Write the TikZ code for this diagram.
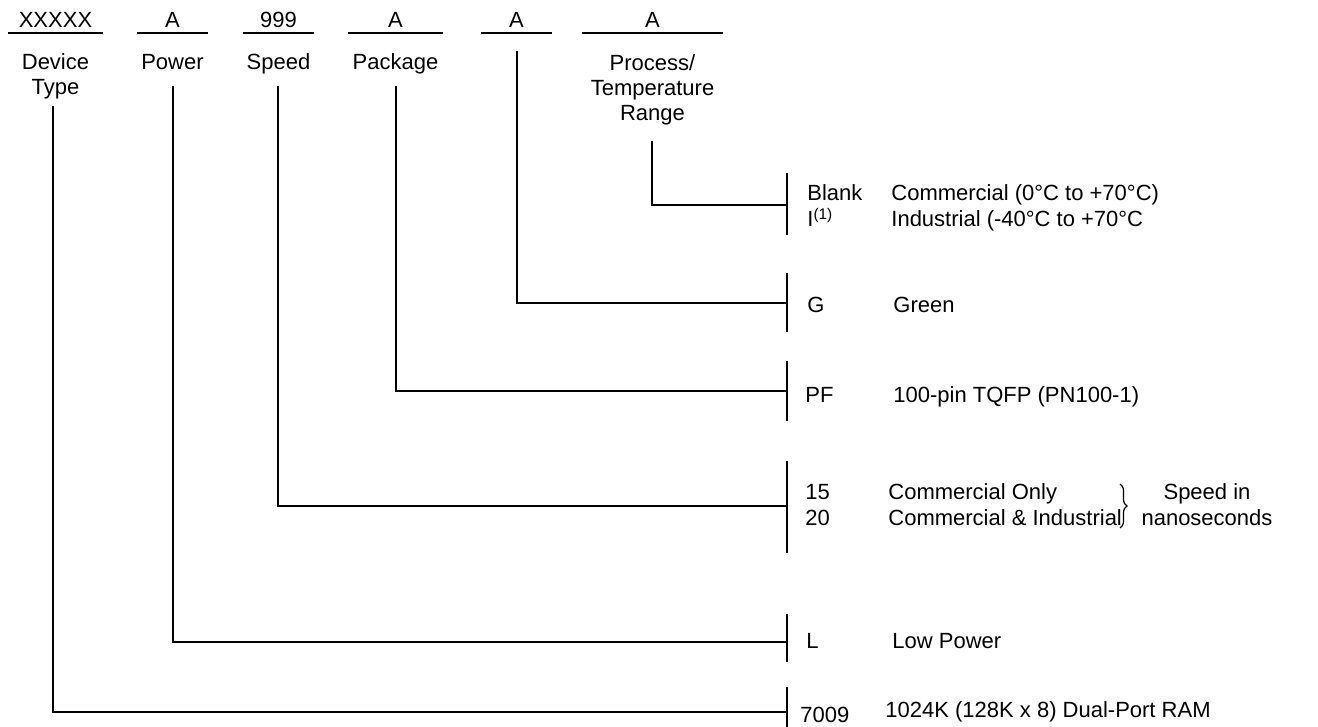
\documentclass[tikz,border=0pt]{standalone}
\usepackage{fontspec}
\setmainfont{Liberation Sans}
\usetikzlibrary{decorations.pathreplacing}
\begin{document}
\begin{tikzpicture}[x=0.5pt,y=-0.5pt,
  txt/.style={inner sep=0pt, font=\fontsize{11}{12.65}\selectfont, anchor=base},
  ctxt/.style={txt, align=center},
  ltxt/.style={txt, anchor=base west},
  ln/.style={line width=0.6pt, black}]
\useasboundingbox (0,0) rectangle (1318,727);

% header fields
\node[txt] (hDev) at (55.5,28) {XXXXX};
\node[txt] (hPow) at (172.5,28) {A};
\node[txt] (hSpd) at (278.5,28) {999};
\node[txt] (hPkg) at (395.5,28) {A};
\node[txt] (hGrn) at (516.5,28) {A};
\node[txt] (hPrc) at (652.5,28) {A};
\draw[ln] (8,33) -- (103,33);
\draw[ln] (137,33) -- (208,33);
\draw[ln] (243,33) -- (314,33);
\draw[ln] (348,33) -- (443,33);
\draw[ln] (481,33) -- (552,33);
\draw[ln] (582,33) -- (723,33);

% field names (base anchor = baseline of the last line)
\node[ctxt] (lDev) at (55.5,95) {Device\\Type};
\node[ctxt] (lPow) at (172.5,70) {Power};
\node[ctxt] (lSpd) at (278.5,70) {Speed};
\node[ctxt] (lPkg) at (395.5,70) {Package};
\node[ctxt] (lPrc) at (652.5,121) {Process/\\Temperature\\Range};

% start points of the leader lines
\coordinate (sDev) at (53,106);
\coordinate (sPow) at (173,86);
\coordinate (sSpd) at (278,86);
\coordinate (sPkg) at (396,86);
\coordinate (sGrn) at (517,51);
\coordinate (sPrc) at (652,141);

% bars on the right
\coordinate (bPrcT) at (787,173); \coordinate (bPrcB) at (787,235); \coordinate (jPrc) at (787,205);
\coordinate (bGrnT) at (787,273); \coordinate (bGrnB) at (787,332); \coordinate (jGrn) at (787,303);
\coordinate (bPkgT) at (787,361); \coordinate (bPkgB) at (787,421); \coordinate (jPkg) at (787,391);
\coordinate (bSpdT) at (787,461); \coordinate (bSpdB) at (787,553); \coordinate (jSpd) at (787,506);
\coordinate (bPowT) at (787,614); \coordinate (bPowB) at (787,662); \coordinate (jPow) at (787,642);
\coordinate (bDevT) at (787,687); \coordinate (bDevB) at (787,727); \coordinate (jDev) at (787,712);
\foreach \b in {Prc,Grn,Pkg,Spd,Pow,Dev}{\draw[ln] (b\b T) -- (b\b B);}

% leader lines
\draw[ln] (sPrc) |- (jPrc);
\draw[ln] (sGrn) |- (jGrn);
\draw[ln] (sPkg) |- (jPkg);
\draw[ln] (sSpd) |- (jSpd);
\draw[ln] (sPow) |- (jPow);
\draw[ln] (sDev) |- (jDev);

% codes and descriptions
\node[ltxt] (cBlank) at (807,201) {Blank};
\node[ltxt] (cI) at (807,227) {I\textsuperscript{(1)}};
\node[ltxt] (dCom) at (891,201) {Commercial (0°C to +70°C)};
\node[ltxt] (dInd) at (891,227) {Industrial (-40°C to +70°C};

\node[ltxt] (cG) at (807,313) {G};
\node[ltxt] (dG) at (893,313) {Green};

\node[ltxt] (cPF) at (805,402) {PF};
\node[ltxt] (dPF) at (893,402) {100-pin TQFP (PN100-1)};

\node[ltxt] (c15) at (805,499) {15};
\node[ltxt] (c20) at (805,525) {20};
\node[ltxt] (dCO) at (888,499) {Commercial Only};
\node[ltxt] (dCI) at (888,525) {Commercial \& Industrial};
\coordinate (brT) at (1120,484);
\coordinate (brB) at (1120,528);
\draw[ln, decorate, decoration={brace, amplitude=3.5pt}] (brT) -- (brB);
\node[txt] (sIn) at (1207,499) {Speed in};
\node[txt] (sNs) at (1207,525) {nanoseconds};

\node[ltxt] (cL) at (806,648) {L};
\node[ltxt] (dL) at (892,648) {Low Power};

\node[ltxt] (c7009) at (800,722) {7009};
\node[ltxt] (d7009) at (885,717) {1024K (128K x 8) Dual-Port RAM};
\end{tikzpicture}
\end{document}
